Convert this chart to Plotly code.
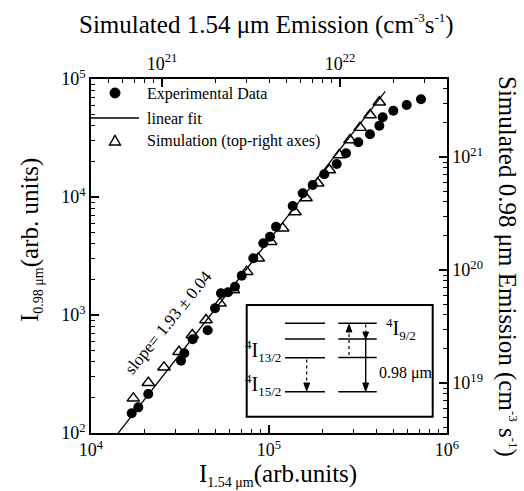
import numpy as np
import plotly.graph_objects as go

# ---------------- data ----------------
# Experimental data (bottom / left axes)
exp_I154 = [16930, 18440, 20980, 32040, 33430, 37270, 45240, 49740, 53740, 58840,
            64420, 70240, 81610, 92890, 101300, 109500, 135900, 154700, 176000, 204500,
            240100, 270800, 317400, 369400, 416700, 435300, 499300, 593700, 714300]
exp_I098 = [147, 165, 214, 410, 474, 622, 742, 1140, 1530, 1560,
            1737, 2153, 3023, 4052, 4608, 5602, 8390, 10750, 12640, 15580,
            19050, 23460, 29080, 34000, 40200, 47360, 53860, 60210, 67300]

# Simulation (top / right axes)
sim_R154 = [6.90e20, 8.38e20, 1.026e21, 1.246e21, 1.480e21, 1.767e21, 2.118e21,
            2.516e21, 2.99e21, 3.475e21, 4.08e21, 4.765e21, 5.587e21, 6.442e21,
            7.493e21, 8.708e21, 9.91e21, 1.138e22, 1.295e22, 1.474e22, 1.663e22]
sim_R098 = [7.32e18, 1.006e19, 1.377e19, 1.892e19, 2.66e19, 3.61e19, 5.07e19,
            6.65e19, 9.66e19, 1.269e20, 1.780e20, 2.339e20, 3.262e20, 4.337e20,
            5.852e20, 7.674e20, 1.042e21, 1.414e21, 1.817e21, 2.353e21, 3.049e21]

# Linear fit in log-log space
fit_slope = 1.93
fit_intercept = -6.016
fit_xrange = [1.2e4, 4.5e5]

# tick labels
x_ticks = [1e4, 1e5, 1e6]
x_ticktext = ["10<sup>4</sup>", "10<sup>5</sup>", "10<sup>6</sup>"]
y_ticks = [1e2, 1e3, 1e4, 1e5]
y_ticktext = ["10<sup>2</sup>", "10<sup>3</sup>", "10<sup>4</sup>", "10<sup>5</sup>"]
x2_ticks = [1e21, 1e22]
x2_ticktext = ["10<sup>21</sup>", "10<sup>22</sup>"]
y2_ticks = [1e19, 1e20, 1e21]
y2_ticktext = ["10<sup>19</sup>", "10<sup>20</sup>", "10<sup>21</sup>"]

# ---------------- layout geometry ----------------
W, H = 524, 491
L, R, T, B = 91, 77, 79, 58
PW, PH = W - L - R, H - T - B
FONT = "Liberation Serif, Times New Roman, serif"


def P(px, py):
    return (px - L) / PW, (H - B - py) / PH


def minor_vals(lo, hi):
    out = []
    for n in range(lo, hi):
        for k in range(2, 10):
            out.append(k * 10.0 ** n)
    return out


fit_x = np.logspace(np.log10(fit_xrange[0]), np.log10(fit_xrange[1]), 50)
fit_y = 10 ** (fit_intercept + fit_slope * np.log10(fit_x))

fig = go.Figure()
fig.add_trace(go.Scatter(x=fit_x, y=fit_y, mode="lines",
                         line=dict(color="black", width=1.3), xaxis="x", yaxis="y",
                         showlegend=False))
fig.add_trace(go.Scatter(x=exp_I154, y=exp_I098, mode="markers",
                         marker=dict(symbol="circle", size=10, color="black"),
                         xaxis="x", yaxis="y", showlegend=False))
fig.add_trace(go.Scatter(x=sim_R154, y=sim_R098, mode="markers",
                         marker=dict(symbol="triangle-up-open", size=11, color="black",
                                     line=dict(width=1.4, color="black")),
                         xaxis="x2", yaxis="y2", showlegend=False))

common = dict(type="log", showgrid=False, zeroline=False, showline=True,
              linecolor="black", linewidth=1.5, ticks="inside", ticklen=8,
              tickwidth=1.5, tickcolor="black", tickmode="array",
              tickfont=dict(family=FONT, size=18, color="black"))

fig.update_layout(
    width=W, height=H, margin=dict(l=L, r=R, t=T, b=B),
    paper_bgcolor="white", plot_bgcolor="white", showlegend=False,
    font=dict(family=FONT, color="black"),
    xaxis=dict(range=[4, 6], tickvals=x_ticks, ticktext=x_ticktext, side="bottom",
               minor=dict(tickvals=minor_vals(4, 6), ticks="inside", ticklen=4,
                          tickwidth=1, tickcolor="black"), **common),
    yaxis=dict(range=[2, 5], tickvals=y_ticks, ticktext=y_ticktext, side="left",
               minor=dict(tickvals=minor_vals(2, 5), ticks="inside", ticklen=4,
                          tickwidth=1, tickcolor="black"), **common),
    xaxis2=dict(range=[20.6011, 22.6011], tickvals=x2_ticks, ticktext=x2_ticktext,
                side="top", overlaying="x", anchor="y",
                minor=dict(tickvals=minor_vals(20, 23), ticks="inside", ticklen=4,
                           tickwidth=1, tickcolor="black"), **common),
    yaxis2=dict(range=[18.5575, 21.690], tickvals=y2_ticks, ticktext=y2_ticktext,
                side="right", overlaying="y", anchor="x",
                minor=dict(tickvals=minor_vals(18, 22), ticks="inside", ticklen=4,
                           tickwidth=1, tickcolor="black"), **common),
)

shapes = []
ann = []


def line(x0, y0, x1, y1, width=1.5, dash="solid"):
    a = P(x0, y0)
    b = P(x1, y1)
    shapes.append(dict(type="line", xref="paper", yref="paper", x0=a[0], y0=a[1],
                       x1=b[0], y1=b[1], line=dict(color="black", width=width, dash=dash)))


def tri(points, fill="black", width=1.0):
    pts = [P(x, y) for x, y in points]
    path = "M " + " L ".join(f"{p[0]:.5f},{p[1]:.5f}" for p in pts) + " Z"
    shapes.append(dict(type="path", xref="paper", yref="paper", path=path,
                       fillcolor=fill, line=dict(color="black", width=width)))


def text(px, py, s, size=16, xanchor="left", yanchor="middle", angle=0):
    p = P(px, py)
    ann.append(dict(x=p[0], y=p[1], xref="paper", yref="paper", text=s, showarrow=False,
                    xanchor=xanchor, yanchor=yanchor, textangle=angle,
                    font=dict(family=FONT, size=size, color="black")))


# ---------------- legend ----------------
c = P(115, 93)
r = 5 / PW, 5 / PH
shapes.append(dict(type="circle", xref="paper", yref="paper",
                   x0=c[0] - r[0], x1=c[0] + r[0], y0=c[1] - r[1], y1=c[1] + r[1],
                   fillcolor="black", line=dict(color="black", width=1)))
text(145, 94, "Experimental Data")
line(91, 118, 139, 118, width=1.3)
text(145, 118, "linear fit")
tri([(109.5, 145), (120.5, 145), (115, 135.5)], fill="white", width=1.4)
text(145, 141, "Simulation (top-right axes)")

# slope annotation
text(168, 322, "slope= 1.93 ± 0.04", size=17, xanchor="center", angle=-51)

# ---------------- inset ----------------
bx0, by0 = P(246.7, 305)
bx1, by1 = P(432.7, 416.7)
shapes.append(dict(type="rect", xref="paper", yref="paper", x0=bx0, y0=by1, x1=bx1, y1=by0,
                   line=dict(color="black", width=2), fillcolor="rgba(0,0,0,0)"))
for yy in [323.3, 339, 357.7, 391.7]:
    line(285, yy, 325, yy, width=1.6)
for yy in [323.3, 339, 357.5, 391.7]:
    line(338.3, yy, 376.7, yy, width=1.6)
# left dotted arrow down
line(306.7, 359.5, 306.7, 384, width=1.2, dash="dot")
tri([(303.8, 383), (309.6, 383), (306.7, 391)])
# right dotted arrow up
line(349, 355, 349, 331, width=1.2, dash="dot")
tri([(346.1, 332), (351.9, 332), (349, 324.5)])
# right dotted arrow down (short)
line(365.7, 324.5, 365.7, 333, width=1.2, dash="dot")
tri([(362.8, 332), (368.6, 332), (365.7, 339)])
# solid arrow down
line(365.7, 339, 365.7, 384, width=1.4)
tri([(362.8, 383), (368.6, 383), (365.7, 391.5)])

sub_style = "<sub><span style='font-size:13px'>{}</span></sub>"
sup_style = "<sup><span style='font-size:13px'>{}</span></sup>"
text(283, 351, sup_style.format("4") + "I" + sub_style.format("13/2"), size=20, xanchor="right")
text(283, 385, sup_style.format("4") + "I" + sub_style.format("15/2"), size=20, xanchor="right")
text(384, 329, sup_style.format("4") + "I" + sub_style.format("9/2"), size=20, xanchor="left")
text(377, 373, "0.98 μm", size=16, xanchor="left")

# ---------------- axis titles ----------------
sub14 = "<sub><span style='font-size:14px'>{}</span></sub>"
sup13 = "<sup><span style='font-size:13px'>{}</span></sup>"
text(278, 475, "I" + sub14.format("1.54 μm") + "(arb.units)", size=25, xanchor="center")
text(31, 240, "I" + sub14.format("0.98 μm") + "(arb. units)", size=25, xanchor="center",
     angle=-90)
text(266, 24, "Simulated 1.54 μm Emission (cm" + sup13.format("-3") + "s" + sup13.format("-1") + ")",
     size=25, xanchor="center")
text(507, 266, "Simulated 0.98 μm Emission (cm" + sup13.format("-3") + " s" + sup13.format("-1") + ")",
     size=25, xanchor="center", angle=90)

fig.update_layout(shapes=shapes, annotations=ann)
fig.write_html("out.html")
